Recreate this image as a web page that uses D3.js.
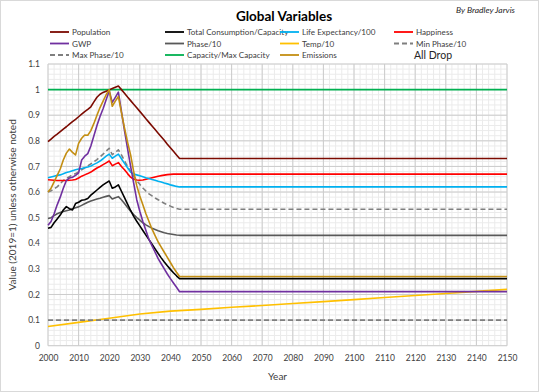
<!DOCTYPE html>
<html lang="en">
<head>
<meta charset="UTF-8"/>
<title>Global Variables</title>
<script src="https://d3js.org/d3.v7.min.js"></script>
<style>
    body { margin: 0; background: #fff; }
    svg text { font-family: Lato, "Open Sans", sans-serif; }
</style>
</head>
<body>
<div id="chart"></div>
<script>
    // years with yearly values, then the last (flat) point at 2150
    const years = d3.range(2000, 2044).concat([2150]);

    const population = [0.797,0.807,0.817,0.826,0.836,0.846,0.855,0.865,0.875,0.884,
        0.894,0.904,0.914,0.923,0.933,0.952,0.970,0.982,0.989,0.994,
        0.999,1.004,1.009,1.014,1.000,0.986,0.971,0.957,0.943,0.929,
        0.915,0.901,0.886,0.872,0.858,0.844,0.830,0.816,0.802,0.787,
        0.773,0.759,0.745,0.731, 0.731];
    const consumption = [0.459,0.462,0.480,0.495,0.510,0.530,0.543,0.535,0.530,0.555,
        0.560,0.568,0.570,0.575,0.588,0.598,0.608,0.618,0.628,0.636,
        0.643,0.615,0.620,0.628,0.603,0.578,0.553,0.528,0.505,0.486,
        0.468,0.450,0.432,0.414,0.396,0.378,0.360,0.343,0.327,0.312,
        0.298,0.285,0.273,0.262, 0.262];
    const lifeExp = [0.656,0.659,0.662,0.665,0.667,0.671,0.676,0.679,0.683,0.687,
        0.690,0.692,0.695,0.698,0.702,0.708,0.714,0.721,0.730,0.740,
        0.748,0.732,0.740,0.748,0.730,0.712,0.695,0.678,0.670,0.667,
        0.664,0.660,0.656,0.653,0.649,0.646,0.642,0.639,0.635,0.632,
        0.628,0.625,0.622,0.620, 0.620];
    const happiness = [0.648,0.647,0.646,0.645,0.645,0.645,0.645,0.646,0.647,0.649,
        0.655,0.662,0.667,0.672,0.678,0.686,0.694,0.700,0.707,0.714,
        0.721,0.703,0.709,0.715,0.700,0.687,0.672,0.658,0.650,0.647,
        0.646,0.647,0.650,0.653,0.656,0.659,0.662,0.664,0.666,0.668,
        0.669,0.670,0.670,0.670, 0.670];
    const gwp = [0.470,0.485,0.515,0.550,0.580,0.615,0.645,0.655,0.658,0.665,
        0.675,0.725,0.740,0.750,0.780,0.820,0.860,0.895,0.925,0.960,
        0.995,0.950,0.970,0.990,0.915,0.840,0.770,0.700,0.635,0.570,
        0.525,0.485,0.450,0.415,0.390,0.365,0.340,0.320,0.300,0.280,
        0.262,0.245,0.228,0.211, 0.211];
    const phase = [0.497,0.500,0.508,0.515,0.520,0.524,0.527,0.530,0.535,0.539,
        0.542,0.548,0.554,0.560,0.565,0.569,0.573,0.576,0.580,0.583,
        0.586,0.573,0.578,0.582,0.570,0.555,0.540,0.525,0.512,0.500,
        0.490,0.480,0.472,0.465,0.459,0.454,0.449,0.445,0.441,0.438,
        0.436,0.434,0.432,0.431, 0.431];
    const maxPhase = [0.600,0.605,0.613,0.620,0.632,0.645,0.654,0.660,0.667,0.672,
        0.679,0.687,0.695,0.702,0.710,0.718,0.727,0.737,0.748,0.760,
        0.771,0.746,0.755,0.765,0.745,0.722,0.700,0.680,0.662,0.645,
        0.630,0.616,0.604,0.593,0.585,0.577,0.570,0.563,0.556,0.550,
        0.545,0.540,0.536,0.533, 0.533];
    const emissions = [0.600,0.615,0.640,0.665,0.690,0.725,0.752,0.768,0.755,0.745,
        0.790,0.810,0.823,0.822,0.840,0.868,0.900,0.930,0.955,0.980,
        1.000,0.935,0.955,0.973,0.910,0.850,0.795,0.745,0.680,0.625,
        0.585,0.550,0.515,0.485,0.455,0.430,0.405,0.385,0.365,0.345,
        0.325,0.305,0.287,0.270, 0.270];

    const tempYears = [2000,2010,2020,2030,2040,2050,2060,2070,2080,2090,2100,2110,2120,2130,2140,2150];
    const temp = [0.075,0.091,0.107,0.124,0.135,0.142,0.150,0.157,0.165,0.172,0.180,0.188,0.196,0.204,0.212,0.220];

    const flatYears = [2000, 2150];
    const capacity = [1.0, 1.0];
    const minPhase = [0.1, 0.1];

    const xTicks = d3.range(2000, 2151, 10);
    const yTicks = [0,0.1,0.2,0.3,0.4,0.5,0.6,0.7,0.8,0.9,1,1.1];

    // legend entries in reading order (4 per row)
    const legendNames = ["Population","Total Consumption/Capacity","Life Expectancy/100","Happiness",
        "GWP","Phase/10","Temp/10","Min Phase/10",
        "Max Phase/10","Capacity/Max Capacity","Emissions"];

    const series = [
        { name: "Temp/10", xs: tempYears, ys: temp, color: "#ffc000", dash: null },
        { name: "Min Phase/10", xs: flatYears, ys: minPhase, color: "#7f7f7f", dash: "5,3" },
        { name: "Capacity/Max Capacity", xs: flatYears, ys: capacity, color: "#00b050", dash: null },
        { name: "Phase/10", xs: years, ys: phase, color: "#595959", dash: null },
        { name: "Max Phase/10", xs: years, ys: maxPhase, color: "#7f7f7f", dash: "5,3" },
        { name: "Happiness", xs: years, ys: happiness, color: "#ff0000", dash: null },
        { name: "Life Expectancy/100", xs: years, ys: lifeExp, color: "#00b0f0", dash: null },
        { name: "Total Consumption/Capacity", xs: years, ys: consumption, color: "#000000", dash: null },
        { name: "Population", xs: years, ys: population, color: "#7b0a00", dash: null },
        { name: "GWP", xs: years, ys: gwp, color: "#7030a0", dash: null },
        { name: "Emissions", xs: years, ys: emissions, color: "#c38e12", dash: null }
    ];

    const w = 541, h = 392;
    const plot = { left: 48, right: 507, top: 64, bottom: 345.7 };

    const svg = d3.select("#chart").append("svg")
        .attr("width", w)
        .attr("height", h);

    // chart border
    svg.append("rect")
        .attr("x", 0.5).attr("y", 0.5)
        .attr("width", w - 3).attr("height", h - 1)
        .attr("fill", "#fff")
        .attr("stroke", "#d9d9d9");

    const x = d3.scaleLinear().domain([2000, 2150]).range([plot.left, plot.right]);
    const y = d3.scaleLinear().domain([0, 1.1]).range([plot.bottom, plot.top]);

    // gridlines: minor first, then major
    const grid = svg.append("g");
    grid.selectAll(".vminor")
        .data(d3.range(2000, 2151, 2))
        .enter().append("line")
        .attr("x1", d => x(d)).attr("x2", d => x(d))
        .attr("y1", plot.top).attr("y2", plot.bottom)
        .attr("stroke", "#ebebeb");
    grid.selectAll(".hminor")
        .data(d3.range(0, 56).map(i => i * 0.02))
        .enter().append("line")
        .attr("x1", plot.left).attr("x2", plot.right)
        .attr("y1", d => y(d)).attr("y2", d => y(d))
        .attr("stroke", "#ebebeb");
    grid.selectAll(".vmajor")
        .data(xTicks)
        .enter().append("line")
        .attr("x1", d => x(d)).attr("x2", d => x(d))
        .attr("y1", plot.top).attr("y2", plot.bottom)
        .attr("stroke", "#cccccc");
    grid.selectAll(".hmajor")
        .data(yTicks)
        .enter().append("line")
        .attr("x1", plot.left).attr("x2", plot.right)
        .attr("y1", d => y(d)).attr("y2", d => y(d))
        .attr("stroke", "#cccccc");

    // axes
    const yAxis = svg.append("g")
        .attr("transform", `translate(${plot.left - 5},0)`)
        .call(d3.axisLeft(y).tickValues(yTicks).tickSize(0).tickFormat(d => String(+d.toFixed(1))));
    yAxis.select(".domain").remove();
    yAxis.selectAll("text")
        .attr("font-size", "8.5px")
        .attr("fill", "#404040")
        .style("font-family", "Lato, sans-serif");

    const xAxis = svg.append("g")
        .attr("transform", `translate(0,${plot.bottom + 6})`)
        .call(d3.axisBottom(x).tickValues(xTicks).tickSize(0).tickFormat(d3.format("d")));
    xAxis.select(".domain").remove();
    xAxis.selectAll("text")
        .attr("font-size", "8.5px")
        .attr("fill", "#404040")
        .style("font-family", "Lato, sans-serif");

    // lines
    const line = d3.line()
        .x(d => x(d[0]))
        .y(d => y(d[1]));

    svg.append("g").selectAll("path")
        .data(series)
        .enter().append("path")
        .attr("d", s => line(s.xs.map((yr, i) => [yr, s.ys[i]])))
        .attr("fill", "none")
        .attr("stroke", s => s.color)
        .attr("stroke-width", 1.6)
        .attr("stroke-dasharray", s => s.dash)
        .attr("stroke-linejoin", "round");

    // legend
    const colX = [50, 165, 280, 394];
    const rowY = [32, 43.5, 55];
    const legend = svg.append("g");
    const items = legend.selectAll("g")
        .data(legendNames)
        .enter().append("g")
        .attr("transform", (d, i) => `translate(${colX[i % 4]},${rowY[Math.floor(i / 4)]})`);
    items.append("line")
        .attr("x1", 0).attr("x2", 19)
        .attr("stroke", d => series.find(s => s.name === d).color)
        .attr("stroke-dasharray", d => series.find(s => s.name === d).dash)
        .attr("stroke-width", 1.8);
    items.append("text")
        .attr("x", 22).attr("y", 3)
        .attr("font-size", "8.1px")
        .attr("fill", "#404040")
        .text(d => d);

    svg.append("text")
        .attr("x", 433).attr("y", 59)
        .attr("text-anchor", "middle")
        .attr("font-size", "10.5px")
        .attr("fill", "#262626")
        .text("All Drop");

    // titles
    svg.append("text")
        .attr("x", 284).attr("y", 21)
        .attr("text-anchor", "middle")
        .attr("font-size", "13.5px")
        .attr("font-weight", "bold")
        .attr("fill", "#000")
        .text("Global Variables");

    svg.append("text")
        .attr("x", 515).attr("y", 13)
        .attr("text-anchor", "end")
        .attr("font-size", "8.5px")
        .attr("font-style", "italic")
        .attr("fill", "#262626")
        .text("By Bradley Jarvis");

    svg.append("text")
        .attr("x", (plot.left + plot.right) / 2).attr("y", 380)
        .attr("text-anchor", "middle")
        .attr("font-size", "10px")
        .attr("fill", "#404040")
        .text("Year");

    svg.append("text")
        .attr("transform", "rotate(-90)")
        .attr("x", -(plot.top + plot.bottom) / 2).attr("y", 16)
        .attr("text-anchor", "middle")
        .attr("font-size", "10px")
        .attr("fill", "#404040")
        .text("Value (2019=1) unless otherwise noted");
</script>
</body>
</html>
